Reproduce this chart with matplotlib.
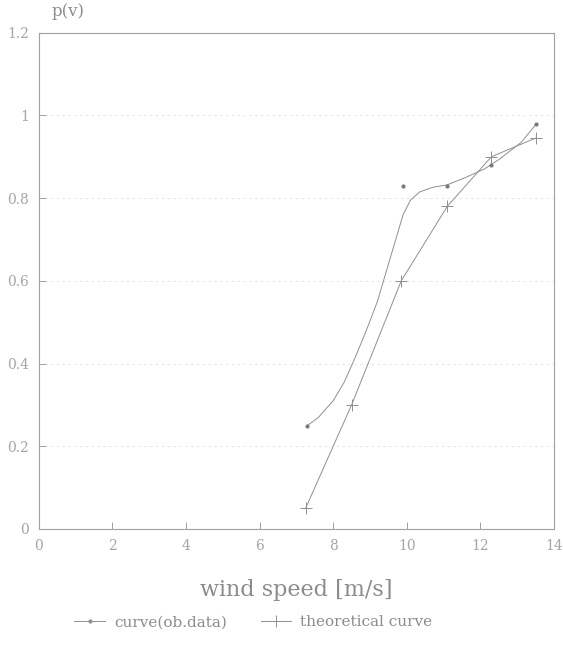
import matplotlib
matplotlib.use("Agg")
import matplotlib.pyplot as plt

# observed probability points
obs_speed = [7.3, 9.9, 11.1, 12.3, 13.5]
obs_prob = [0.25, 0.83, 0.83, 0.88, 0.98]

# smoothed curve through the observed data
fit_speed = [7.3, 7.6, 8.0, 8.3, 8.6, 8.9, 9.2, 9.45, 9.7, 9.9, 10.1, 10.35,
             10.7, 11.1, 11.6, 12.1, 12.5, 13.1, 13.5]
fit_prob = [0.25, 0.27, 0.31, 0.355, 0.415, 0.48, 0.55, 0.625, 0.70, 0.76, 0.795, 0.815,
            0.826, 0.832, 0.85, 0.87, 0.893, 0.934, 0.977]

# theoretical curve
th_speed = [7.25, 8.5, 9.85, 11.1, 12.3, 13.5]
th_prob = [0.05, 0.30, 0.60, 0.78, 0.90, 0.945]

xticks = [0, 2, 4, 6, 8, 10, 12, 14]
yticks = [0, 0.2, 0.4, 0.6, 0.8, 1, 1.2]
ytick_labels = ["0", "0.2", "0.4", "0.6", "0.8", "1", "1.2"]

plt.rcParams["font.family"] = ["DejaVu Serif"]
line_col = "#909090"
text_col = "#a5a5a5"

fig = plt.figure(figsize=(5.63, 6.53), dpi=100)
ax = fig.add_axes([0.069, 0.19, 0.915, 0.76])

ax.plot(fit_speed, fit_prob, color=line_col, lw=0.7)
ax.plot(obs_speed, obs_prob, ls="none", marker=".", ms=4, color="#7a7a7a")
ax.plot(th_speed, th_prob, color=line_col, lw=0.7, marker="+", ms=8, mew=0.7)

# legend handles
ax.plot([], [], color=line_col, lw=0.7, marker=".", ms=4, label="curve(ob.data)")
ax.plot([], [], color=line_col, lw=0.7, marker="+", ms=8, mew=0.7, label="theoretical curve")

for y in yticks[1:-1]:
    ax.axhline(y, color="#e0e0e0", lw=0.7, ls=(0, (2, 4)), zorder=0)

ax.set_xlim(0, 14)
ax.set_ylim(0, 1.2)
ax.set_xticks(xticks)
ax.set_yticks(yticks)
ax.set_yticklabels(ytick_labels)
ax.tick_params(direction="in", length=5, width=0.7, colors="#a0a0a0",
               labelcolor=text_col, labelsize=10, pad=7)
for s in ax.spines.values():
    s.set_color("#a0a0a0")
    s.set_linewidth(0.8)

ax.set_xlabel("wind speed [m/s]", fontsize=16, color="#8c8c8c", labelpad=19)
ax.text(0.025, 1.033, "p(v)", transform=ax.transAxes, fontsize=12, color="#8c8c8c")

handles, labels = ax.get_legend_handles_labels()
fig.legend(handles[-2:], labels[-2:], loc="lower center", bbox_to_anchor=(0.45, 0.015),
           ncol=2, frameon=False, fontsize=11, labelcolor="#8c8c8c",
           handlelength=2.0, handletextpad=0.6, columnspacing=2.2)

fig.savefig("out.png", dpi=100, facecolor="white")
